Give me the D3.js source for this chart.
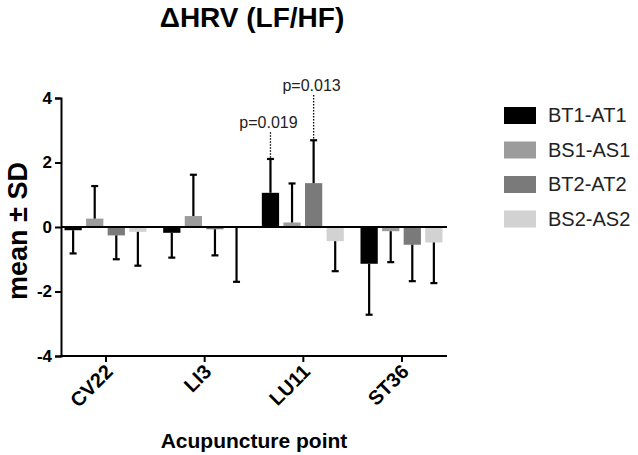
<!DOCTYPE html>
<html>
<head>
<meta charset="utf-8">
<script src="https://cdn.jsdelivr.net/npm/d3@7"></script>
<style>
  body { margin: 0; background: #fff; }
  text { font-family: Arial, "Liberation Sans", sans-serif; }
</style>
</head>
<body>
<svg width="638" height="455"></svg>
<script>
// acupuncture points and the four difference series
const categories = ["CV22", "LI3", "LU11", "ST36"];
const series = ["BT1-AT1", "BS1-AS1", "BT2-AT2", "BS2-AS2"];
const colors = ["#000000", "#9c9c9c", "#7a7a7a", "#d2d2d2"];

// means
const bt1At1 = [-0.10, -0.18, 1.06, -1.14];
const bs1As1 = [0.26, 0.34, 0.14, -0.13];
const bt2At2 = [-0.26, -0.07, 1.36, -0.55];
const bs2As2 = [-0.15, -0.03, -0.44, -0.48];

// SDs (one sided error bars)
const bt1At1Sd = [0.72, 0.77, 1.05, 1.58];
const bs1As1Sd = [1.01, 1.28, 1.21, 0.96];
const bt2At2Sd = [0.74, 0.81, 1.33, 1.13];
const bs2As2Sd = [1.05, 1.67, 0.93, 1.26];

const yTicks = [-4, -2, 0, 2, 4];

// p-value notes: category, series, label, label height
const pCats = ["LU11", "LU11"];
const pSeries = ["BT1-AT1", "BT2-AT2"];
const pTexts = ["p=0.019", "p=0.013"];
const pLevels = [3.06, 4.22];

const means = [bt1At1, bs1As1, bt2At2, bs2As2];
const sds = [bt1At1Sd, bs1As1Sd, bt2At2Sd, bs2As2Sd];

var data = [];
categories.forEach(function(c, i) {
  series.forEach(function(s, j) {
    data.push({ cat: c, ser: s, mean: means[j][i], sd: sds[j][i], color: colors[j] });
  });
});

var svg = d3.select('svg');

var x = d3.scalePoint().domain(categories).range([105.5, 401.5]);
var xIn = d3.scaleBand().domain(series).range([-41, 41]).paddingInner(0.2);
var y = d3.scaleLinear().domain([-4, 4]).range([356, 98]);

// title
svg.append('text')
  .attr('x', 252).attr('y', 27)
  .attr('text-anchor', 'middle')
  .attr('font-size', '28px').attr('font-weight', 'bold')
  .text('\u0394HRV (LF/HF)');

// bars
var bars = svg.append('g');
bars.selectAll('rect')
  .data(data)
  .enter()
  .append('rect')
  .attr('x', d => x(d.cat) + xIn(d.ser))
  .attr('width', xIn.bandwidth())
  .attr('y', d => y(Math.max(0, d.mean)))
  .attr('height', d => Math.abs(y(d.mean) - y(0)))
  .attr('fill', d => d.color);

// error bars, only in the direction of the bar
var errs = svg.append('g').attr('stroke', '#000').attr('stroke-width', 2.2);
data.forEach(function(d) {
  var cx = x(d.cat) + xIn(d.ser) + xIn.bandwidth() / 2;
  var end = d.mean >= 0 ? d.mean + d.sd : d.mean - d.sd;
  errs.append('line')
    .attr('x1', cx).attr('x2', cx)
    .attr('y1', y(d.mean)).attr('y2', y(end));
  errs.append('line')
    .attr('x1', cx - 3.5).attr('x2', cx + 3.5)
    .attr('y1', y(end)).attr('y2', y(end));
});

// zero line
svg.append('line')
  .attr('x1', 61).attr('x2', 447)
  .attr('y1', y(0)).attr('y2', y(0))
  .attr('stroke', '#000').attr('stroke-width', 2.2);

// axes
var yAxis = d3.axisLeft(y).tickValues(yTicks).tickFormat(d => String(d)).tickSize(6).tickPadding(3);
var gy = svg.append('g')
  .attr('transform', 'translate(61,0)')
  .call(yAxis);
gy.select('.domain').attr('stroke-width', 2);
gy.selectAll('.tick line').attr('stroke-width', 2);
gy.selectAll('text').attr('font-size', '17px').attr('font-weight', 'bold')
  .attr('font-family', 'Arial, "Liberation Sans", sans-serif').attr('fill', '#000');

var xAxis = d3.axisBottom(x).tickSize(6).tickSizeOuter(0);
var gx = svg.append('g')
  .attr('transform', 'translate(0,356)')
  .call(xAxis);
gx.select('.domain').attr('d', 'M60,0H447').attr('stroke-width', 2);
gx.selectAll('.tick line').attr('stroke-width', 2);
gx.selectAll('text')
  .attr('font-size', '20px').attr('font-weight', 'bold')
  .attr('font-family', 'Arial, "Liberation Sans", sans-serif').attr('fill', '#000')
  .attr('text-anchor', 'end')
  .attr('dy', null).attr('y', 0)
  .attr('transform', 'translate(8,17) rotate(-45)');

// axis titles
svg.append('text')
  .attr('transform', 'translate(27,231) rotate(-90)')
  .attr('text-anchor', 'middle')
  .attr('font-size', '27px').attr('font-weight', 'bold')
  .text('mean \u00b1 SD');

svg.append('text')
  .attr('x', 254).attr('y', 448)
  .attr('text-anchor', 'middle')
  .attr('font-size', '21px').attr('font-weight', 'bold')
  .text('Acupuncture point');

// p-value notes with dotted leaders
var notes = svg.append('g');
pTexts.forEach(function(t, i) {
  var d = data.find(e => e.cat === pCats[i] && e.ser === pSeries[i]);
  var cx = x(d.cat) + xIn(d.ser) + xIn.bandwidth() / 2;
  notes.append('line')
    .attr('x1', cx).attr('x2', cx)
    .attr('y1', y(pLevels[i]) + 4).attr('y2', y(d.mean + d.sd) - 1)
    .attr('stroke', '#000').attr('stroke-width', 1.3)
    .attr('stroke-dasharray', '1.5,1.5');
  notes.append('text')
    .attr('x', cx - 2).attr('y', y(pLevels[i]))
    .attr('text-anchor', 'middle')
    .attr('font-size', '16px').attr('fill', '#222')
    .text(t);
});

// legend
var legend = svg.append('g');
series.forEach(function(s, i) {
  var row = legend.append('g').attr('transform', `translate(504, ${107 + i * 34.5})`);
  row.append('rect').attr('width', 32).attr('height', 17).attr('fill', colors[i]);
  row.append('text').attr('x', 44).attr('y', 15)
    .attr('font-size', '20px').attr('fill', '#222')
    .text(s);
});
</script>
</body>
</html>
